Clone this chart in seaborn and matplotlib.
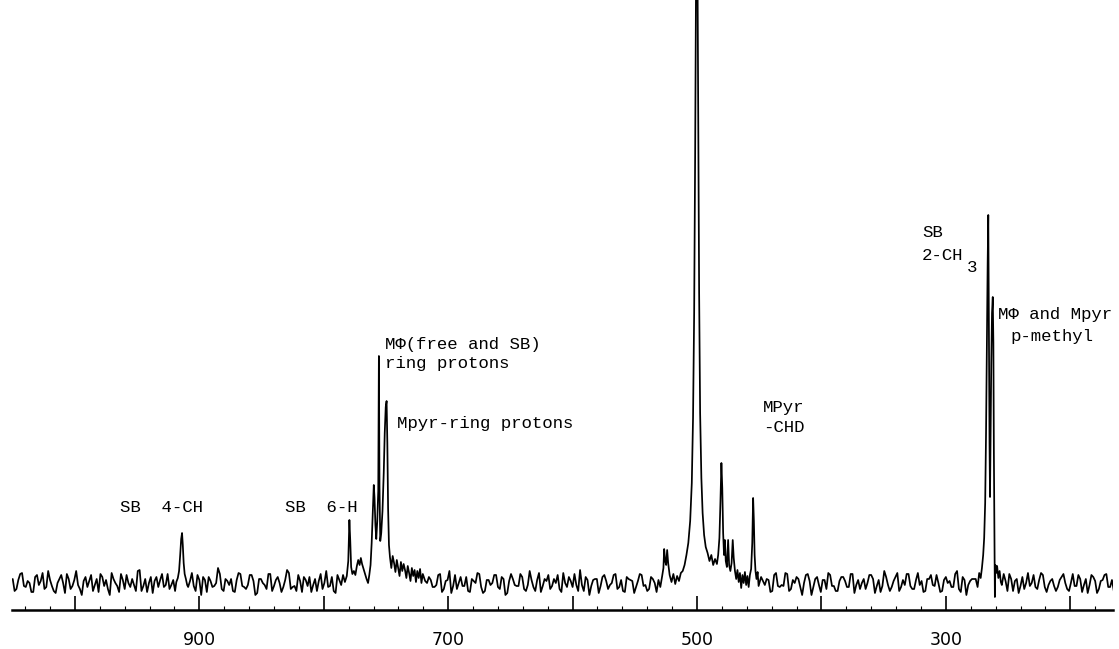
import numpy as np
import pandas as pd
import matplotlib
matplotlib.use("Agg")
import matplotlib.pyplot as plt
import seaborn as sns
from matplotlib.ticker import MultipleLocator

sns.set_theme(style="white")
plt.rcParams['font.family'] = ['DejaVu Sans']

# ---------------- data ----------------
# chemical-shift scale of the spectrum (units of the printed axis)
shift_start = 1050.0
shift_step = 3.0

# baseline noise (intensity above baseline), sampled on the grid 1050, 1047, ...
baseline_noise_a = [
    4, -6, 9, -3, 2, -9, 6, -2, 10, -4, 3, -8, 0, 8, -10, 4, -3, 12, -6, 2,
    -4, 8, -2, -9, 6, 3, -12, 4, -3, 9, -6, 0, 4, -8, 13, -3, -9, 6, 2, -4,
    9, -2, -6, 3, -10, 8, 0, -4, 10, -8, 3, 6, -9, 2, -3, 15, -6, 4, -2, -8,
    3, 9, -4, -2, 8, -12, 4, 0, -6, 9, -3, 6, -9, 3, 10, -4, -8, 2, 6, -3,
    -9, 4, 2, -6, 12, -3, -8, 8, -2, 4, -10, 3, 0, 9, -4, -2, 6, -14, 8, -3,
    2, -4, 9, -8, 3, 6, -2, -9, 4, 10, -6, 0, 3, -4, 8, -9, 2, 12, -3, -6,
    6, -3, -8, 4, 0, 9, -10, 3, -2, 8, -4, 6, -12, 2, 4, -3, 9, -6, -2, 3,
    -8, 10, -3, 2, -6, 4, 8, -9, 0, 6, -4, -2, 13, -8, 3, -3, 4, -10, 6, 2,
    -2, 8, -6, 3, -9, 4, 2, -4, 9, -3, -8, 6, 0, -6, 10, -2, 3, -9, 4, -3,
    8, -4, 0, 6, -10, 3, 9, -6, 2, -3, 4, -8, 12, -2, -4, 6, -9, 3, 0, 8,
    -6, 2, 4, -9, 8, -3, -2, 10, -8, 3, 6, -4, 0, 9, -12, 4, -2, 3, -6, 8,
    -3, -8, 6, 2, -4, 9, -2, -6, 4, 0, 8, -10, 3, -3, 6, -8, 2, 10, -4, -2,
    9, -6, 3, -2, -9, 4, 8, -3, 0, -8, 6, 2, -4, 12, -9, 3, -2, 4, -6, 0,
    3, 8, -4, -10, 6, -2, 2, 9, -8, 4, -3, -6, 10, 0, -4, 3, 8, -9, 2, -3,
    -4, 6, 0, -8, 9, -3, 4, -2, -10, 8, 2, -6, 3, 9, -4, -8, 6, -2, 4, -9,
]
# baseline noise on the in-between grid 1048.5, 1045.5, ...
baseline_noise_b = [
    -8, 3, 10, -4, 0, -9, 8, 2, -6, 12, -3, -10, 4, 0, 9, -6, 3, -2, -12, 6,
    2, -8, 4, 9, -3, -6, 10, 0, -9, 3, 8, -4, -2, 12, -8, 4, 0, -10, 6, 3,
    -4, 9, -2, -8, 4, 10, -6, 2, -3, 8, -12, 3, 6, -4, 0, 9, -8, 2, 4, -9,
    10, -3, -6, 8, 2, -10, 4, -2, 9, -8, 3, 0, -4, 13, -6, -3, 8, -9, 3, 6,
    -2, -8, 9, 0, -4, 6, -10, 3, 8, -3, -6, 10, -2, 4, -9, 2, 6, -4, 0, -12,
    8, 3, -6, 9, -2, -8, 4, -3, 12, -9, 2, 6, -4, -2, 9, -6, 3, -10, 8, 0,
    -3, 6, -9, 2, 10, -4, -8, 3, 0, 8, -6, 4, -10, 9, -2, -3, 6, -8, 12, -4,
    3, -9, 4, 8, -3, 0, -6, 10, -4, 2, 9, -8, -2, 6, -12, 3, 4, -3, 8, -6,
    0, 9, -4, -8, 6, 3, -10, 2, 8, -2, -6, 4, -9, 10, 0, -4, 3, -8, 9, 2,
    -6, 4, 8, -3, -9, 6, 0, -4, 12, -8, 3, 2, -10, 4, 9, -3, -6, 8, -2, -9,
    6, -2, 3, -8, 10, -4, -3, 9, -6, 0, 4, -12, 8, 2, -4, 6, -9, 3, 10, -3,
    -8, 2, 6, -4, 9, -10, 3, 0, -6, 8, 4, -3, -9, 12, -2, -4, 6, -8, 3, 9,
    -3, -6, 10, 2, -8, 4, -2, 8, -9, 3, 0, -4, 9, -6, 6, -12, 2, 4, -3, 8,
    -9, 3, 6, -2, -4, 9, -8, 4, 2, -10, 6, 0, -3, 8, -6, 10, -4, -2, 4, -8,
    3, 9, -6, 0, -3, 8, -9, 4, -2, 6, -10, 2, 8, -4, 3, -8, 9, -3, 0, -6,
]

# SB 4-CH peak (shift, intensity)
peak_sb4ch = [(918.5, 1), (917.3, 5), (916.3, 12), (915.4, 28), (914.6, 44),
              (913.9, 50), (913.3, 38), (912.6, 20), (911.8, 9), (910.8, 4),
              (909.8, -2)]

# SB 6-H + ring-proton cluster
cluster_x = [783, 781.5, 780.3, 779.4, 778.7, 778.0, 777.0, 775.8, 774.6, 773.4,
             772.3, 771.2, 770.2, 769.2, 768.0, 766.8, 765.6, 764.4, 763.4, 762.4,
             761.5, 760.6, 759.8, 759.2, 758.5, 757.8, 757.0, 756.2, 755.7, 755.2,
             754.6, 753.8, 752.8, 751.8, 751.0, 750.2, 749.5, 748.9, 748.3, 747.6,
             746.8, 745.7, 744.6, 743.5, 742.4, 741.3, 740.2, 739.1, 738.0, 736.9,
             735.8, 734.7, 733.6, 732.5, 731.4, 730.3, 729.2, 728.1, 727.0, 725.9,
             724.8, 723.7, 722.6, 721.5, 720.4]
cluster_y = [1, 7, 22, 63, 42, 16, 9, 12, 8, 17,
             23, 18, 25, 19, 14, 9, 4, 0, 8, 18,
             40, 72, 98, 85, 58, 44, 62, 92, 227, 96,
             42, 50, 72, 110, 150, 176, 182, 140, 75, 38,
             26, 15, 27, 20, 11, 23, 15, 7, 21, 12,
             19, 13, 5, 17, 10, 2, 15, 7, 13, 1,
             12, 5, 14, 0, 9]

# central group around 500 (doublet, main line, MPyr -CHD)
peak_main = [(531, 3), (529.5, -4), (528, 7), (527, 15), (526.4, 34), (525.6, 22),
             (524.8, 18), (524, 33), (523.2, 20), (522, 8), (520.5, 1), (519, 9),
             (517.5, -1), (516, 7), (514.5, 2), (513, 10), (511.5, 12), (510, 18),
             (508.5, 28), (507, 40), (505.5, 62), (504.2, 100), (503.2, 165),
             (502.3, 270), (501.5, 430), (500.8, 600), (500.2, 640), (499.6, 610),
             (499, 460), (498.3, 290), (497.5, 170), (496.5, 105), (495.5, 70),
             (494.3, 48), (493, 36), (491.5, 30), (490, 22), (488.5, 28), (487, 18),
             (485.5, 24), (484, 19), (483, 28), (482, 45), (481.2, 80), (480.4, 120),
             (479.7, 95), (479, 50), (478.3, 28), (477.6, 43), (476.9, 22), (476, 16),
             (475, 43), (474.2, 18), (473.2, 12), (472.2, 20), (471.3, 43), (470.5, 25),
             (469.5, 12), (468.5, 4), (467.5, 13), (466.5, 1), (465.5, 10), (464.5, -5),
             (463.5, 8), (462.5, 0), (461.5, 11), (460.5, -2), (459.5, 7), (458.5, -4),
             (457.5, 8), (456.5, 14), (455.6, 40), (454.9, 85), (454.3, 62),
             (453.7, 28), (453, 12), (452.2, 4), (451.3, 11), (450.5, -3)]

# SB 2-CH3 and p-methyl lines
peak_methyl = [(276, 4), (274.5, -4), (273.2, 10), (272, 5), (271, 15), (270, 28),
               (269.2, 45), (268.4, 80), (267.7, 150), (267.0, 240), (266.4, 320),
               (265.9, 368), (265.4, 260), (264.9, 140), (264.5, 86), (264.1, 140),
               (263.5, 220), (262.9, 270), (262.3, 286), (261.8, 240), (261.4, 130),
               (261.0, 50), (260.6, -14), (260.2, 18), (259.6, 10), (258.8, 17),
               (257.8, 5), (256.8, 12), (255.8, 1)]

major_ticks = [1000, 900, 800, 700, 600, 500, 400, 300, 200]
tick_labels = ["", "900", "", "700", "", "500", "", "300", ""]

# ---------------- assemble trace ----------------
noise_df = pd.concat([
    pd.DataFrame({"shift": shift_start - shift_step * np.arange(len(baseline_noise_a)),
                  "intensity": baseline_noise_a}),
    pd.DataFrame({"shift": shift_start - shift_step / 2 - shift_step * np.arange(len(baseline_noise_b)),
                  "intensity": baseline_noise_b}),
], ignore_index=True)
noise_df = noise_df[noise_df["shift"] > 164]

segments = [peak_sb4ch, list(zip(cluster_x, cluster_y)), peak_main, peak_methyl]
windows = []
peak_frames = []
for seg in segments:
    sx = [p[0] for p in seg]
    sy = [p[1] for p in seg]
    windows.append((min(sx), max(sx)))
    peak_frames.append(pd.DataFrame({"shift": sx, "intensity": sy}))

mask = np.ones(len(noise_df), dtype=bool)
for lo, hi in windows:
    mask &= ~((noise_df["shift"] >= lo - 0.5) & (noise_df["shift"] <= hi + 0.5)).values
trace = pd.concat([noise_df[mask]] + peak_frames, ignore_index=True)
trace = trace.sort_values("shift", ascending=False).reset_index(drop=True)

# ---------------- figure ----------------
fig = plt.figure(figsize=(11.19, 6.49), dpi=100)
ax = fig.add_axes([0.0107, 0.0601, 0.984, 0.9399])

sns.lineplot(data=trace, x="shift", y="intensity", sort=False, estimator=None,
             color="black", linewidth=1.25, ax=ax)

ax.set_xlim(1050.6, 165.6)
ax.set_ylim(-27, 583)

for side in ["top", "left", "right"]:
    ax.spines[side].set_visible(False)
ax.spines["bottom"].set_linewidth(1.8)
ax.spines["bottom"].set_color("black")

ax.set_xticks(major_ticks)
ax.set_xticklabels(tick_labels)
ax.xaxis.set_minor_locator(MultipleLocator(20))
ax.tick_params(axis="x", which="major", direction="in", length=10, width=1.2,
               pad=15, labelsize=12.5, colors="black", bottom=True)
ax.tick_params(axis="x", which="minor", direction="in", length=3, width=0.8,
               bottom=True, colors="black")
ax.set_yticks([])
ax.set_xlabel("")
ax.set_ylabel("")

mono = ["Liberation Mono", "DejaVu Sans Mono"]
fs = 12.5
def label(x, y, s):
    ax.text(x, y, s, ha="left", va="center", fontsize=fs, family=mono, color="black")

label(963.8, 75, "SB  4-CH")
label(831.2, 75, "SB  6-H")
label(750.8, 238, "M\u03a6(free and SB)")
label(750.8, 219, "ring protons")
label(741.2, 159, "Mpyr-ring protons")
label(447.0, 175, "MPyr")
label(447.0, 155, "-CHD")
label(319.1, 350, "SB")
label(319.1, 327, "2-CH")
label(283.0, 315, "3")
label(258.0, 268, "M\u03a6 and Mpyr")
label(248.4, 246, "p-methyl")

fig.savefig("out.png", dpi=100)
